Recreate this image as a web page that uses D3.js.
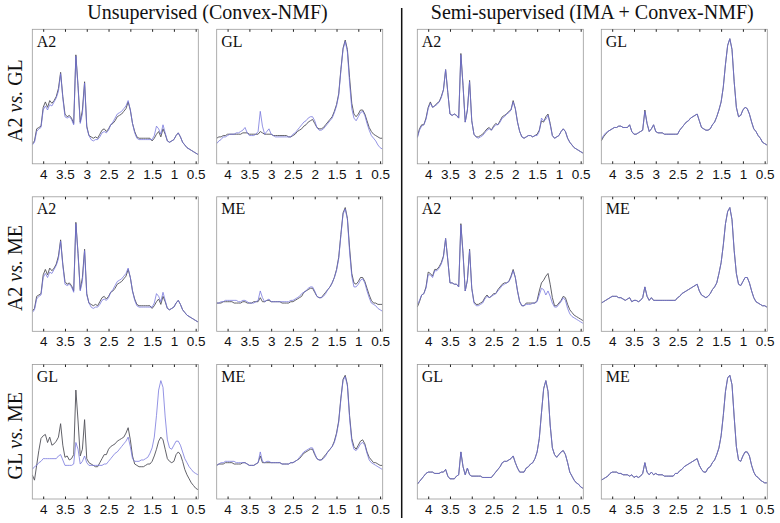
<!DOCTYPE html>
<html><head><meta charset="utf-8">
<script src="https://cdn.jsdelivr.net/npm/d3@7"></script>
<style>body{margin:0;background:#fff}svg{display:block}</style>
</head><body>
<script>
// chemical shift grid (ppm)
const ppm = [4.25,4.20,4.15,4.10,4.05,4.00,3.95,3.90,3.85,3.80,
 3.75,3.70,3.65,3.60,3.55,3.50,3.45,3.40,3.35,3.30,
 3.25,3.20,3.15,3.10,3.05,3.00,2.95,2.90,2.85,2.80,
 2.75,2.70,2.65,2.60,2.55,2.50,2.45,2.40,2.35,2.30,
 2.25,2.20,2.15,2.10,2.05,2.00,1.95,1.90,1.85,1.80,
 1.75,1.70,1.65,1.60,1.55,1.50,1.45,1.40,1.35,1.30,
 1.25,1.20,1.15,1.10,1.05,1.00,0.95,0.90,0.85,0.80,
 0.75,0.70,0.65,0.60,0.55,0.50,0.45];
const tickValues = [4,3.5,3,2.5,2,1.5,1,0.5];
const columnTitles = ["Unsupervised (Convex-NMF)", "Semi-supervised (IMA + Convex-NMF)"];
const rowLabels = [["A2","GL"],["A2","ME"],["GL","ME"]];
const panelLabels = [["A2","GL","A2","GL"],["A2","ME","A2","ME"],["GL","ME","GL","ME"]];

// Unsupervised A2 (rows 1-2, col 1)
const u11d = [15,17,26,27,28,42,46,42,47,45, 47,50,56,68,50,37,35,36,34,30, 81,58,31,40,61,28,21,20,19,20,
 19,22,25,26,24,26,29,30,32,35, 36,37,39,41,46,40,30,24,20,19, 19,19,19,19,19,17,19,22,24,20,
 26,22,17,16,17,18,21,23,20,16, 14,12,11,10,9,8,7];
const u11b = [14,16,24,26,27,40,43,40,44,43, 46,49,54,67,49,35,34,35,33,29, 80,57,30,37,60,27,21,18,17,18,
 18,20,23,24,23,25,29,31,34,37, 38,39,41,43,47,40,30,23,19,18, 18,18,18,18,18,18,21,28,26,22,
 29,23,17,16,17,18,21,23,20,16, 14,12,11,10,9,8,7];
// Unsupervised GL (row 1, col 2)
const u12d = [19,20,20,21,21,22,22,22,22,22, 22,22,23,23,23,22,22,22,22,22, 24,23,22,22,22,22,21,21,21,21,
 21,21,21,20,20,21,22,24,25,26, 28,29,31,32,33,30,27,26,26,27, 29,31,33,35,39,44,52,70,86,92,
 85,64,45,37,35,37,40,40,37,32, 27,24,22,21,20,19,19];
const u12b = [15,17,18,20,20,21,22,22,22,23, 23,24,25,27,23,21,21,21,22,24, 39,28,22,24,26,22,21,20,20,20,
 20,20,20,20,20,22,23,25,27,29, 31,32,34,35,35,32,27,25,25,26, 28,30,32,34,38,43,51,69,85,91,
 83,60,41,34,32,35,38,39,36,30, 25,21,19,17,14,12,11];
// Unsupervised ME (row 2, col 2)
const u22d = [21,21,21,22,22,22,22,22,21,21, 21,21,22,22,21,21,21,22,22,22, 25,22,22,23,23,22,22,22,22,22,
 21,21,21,21,22,22,23,24,25,26, 29,30,31,32,32,29,26,25,25,27, 29,31,33,36,40,46,55,72,88,92,
 84,62,43,36,35,37,40,40,37,32, 27,23,21,21,20,20,20];
const u22b = [21,21,22,22,23,23,23,23,23,23, 22,22,23,23,22,21,21,21,22,23, 30,25,22,23,24,22,22,22,22,22,
 22,22,22,22,23,23,24,25,26,28, 29,30,32,33,33,30,26,25,25,26, 28,31,33,36,40,45,54,71,87,91,
 83,59,41,33,33,35,38,39,36,30, 25,21,20,19,17,16,15];
// Unsupervised GL vs ME (row 3)
const u31d = [18,14,25,36,45,47,48,42,46,40, 41,43,46,56,40,31,32,29,30,33, 81,58,32,37,59,30,27,26,25,24,
 24,27,30,33,33,37,39,40,41,43, 44,45,46,49,53,44,32,26,25,24, 24,24,25,26,26,28,32,37,43,46,
 44,37,30,28,27,28,33,35,33,28, 22,18,15,12,10,8,7];
const u31b = [22,24,25,27,28,30,30,30,30,30, 30,30,32,33,29,25,25,25,25,26, 42,37,26,28,32,27,25,25,25,25,
 25,25,25,26,26,28,30,32,34,35, 37,39,41,43,46,39,30,28,28,28, 29,29,30,31,34,38,46,62,81,88,
 83,61,44,38,37,40,43,43,40,35, 30,27,24,22,20,19,18];
const u32d = [25,26,26,26,27,27,27,27,26,26, 26,26,27,27,26,25,25,25,26,27, 32,27,27,27,27,27,27,27,27,27,
 26,26,26,26,27,27,28,29,30,32, 34,35,36,37,37,33,30,29,29,31, 33,35,37,39,43,49,58,75,89,92,
 85,62,45,39,37,40,43,44,41,35, 31,29,27,27,26,25,25];
const u32b = [25,26,27,27,28,28,28,28,28,27, 27,27,27,27,26,25,25,25,26,27, 35,28,27,28,28,27,27,27,27,27,
 26,26,26,26,27,27,28,29,31,33, 35,36,37,38,38,34,30,29,29,30, 32,35,37,39,42,48,57,74,88,91,
 84,60,43,37,36,38,41,42,40,34, 29,27,26,25,24,23,22];
// Semi-supervised
const s13d = [20,26,29,29,34,42,46,42,43,45, 46,50,55,70,53,37,36,37,36,34, 82,58,31,40,62,32,22,20,20,21,
 22,24,26,27,25,28,30,29,32,35, 36,37,39,40,47,41,31,24,20,19, 20,21,21,20,21,22,25,32,31,35,
 37,30,21,19,20,21,24,26,24,19, 16,14,12,11,10,9,8];
const s13b = [19,25,28,29,33,41,45,42,43,44, 46,49,55,70,53,37,36,37,36,34, 81,58,31,40,61,32,22,20,19,20,
 21,23,25,26,25,27,29,29,31,34, 35,37,38,40,46,41,31,24,20,19, 20,21,21,20,21,21,24,34,32,33,
 36,29,21,19,20,21,24,26,24,19, 16,14,12,11,10,9,8];
const s14d = [17,20,22,24,25,26,27,27,28,28, 27,27,27,29,24,22,22,23,24,25, 40,30,24,26,29,24,23,23,23,22,
 22,22,22,22,22,22,25,27,29,31, 32,34,35,36,37,32,27,26,25,25, 26,29,31,35,40,46,57,74,88,93,
 85,61,42,35,36,40,42,41,37,31, 26,24,21,19,16,15,14];
const s14b = [18,21,23,24,25,26,27,27,28,28, 27,27,27,29,24,22,22,23,24,25, 39,30,24,26,29,24,23,23,23,22,
 22,22,22,22,22,22,25,27,29,31, 32,34,35,36,37,32,27,26,25,25, 26,29,31,35,40,46,57,74,88,93,
 85,61,42,35,36,40,42,41,37,31, 26,24,21,19,16,15,14];
const s23d = [18,22,27,28,33,44,43,41,46,46, 48,51,56,69,53,36,36,35,35,33, 80,58,30,38,61,32,22,20,20,21,
 22,25,27,25,26,28,28,31,33,35, 36,36,37,41,46,40,30,22,19,19, 21,21,21,21,21,23,30,36,38,41,
 43,35,25,19,19,21,23,26,25,20, 16,14,12,11,10,9,8];
const s23b = [20,23,27,28,32,42,42,40,45,45, 47,50,55,69,53,36,36,35,35,33, 79,57,30,38,60,32,21,19,19,20,
 21,24,26,25,26,27,28,30,32,34, 35,36,37,40,45,40,30,22,19,19, 20,20,20,21,21,22,27,32,31,27,
 30,26,21,18,18,20,22,25,23,17, 13,11,10,9,8,7,6];
const s24d = [21,22,23,24,25,26,26,26,25,25, 24,23,24,25,22,23,23,22,23,25, 33,26,23,25,23,23,23,23,23,23,
 23,23,23,23,23,25,26,28,29,30, 31,32,33,34,35,30,27,26,25,26, 28,31,33,36,43,51,64,80,89,92,
 83,60,43,35,34,37,40,40,36,30, 25,22,21,20,19,19,18];
const s24b = [21,22,23,24,25,26,26,26,25,25, 24,23,24,25,22,23,23,22,23,25, 33,26,23,25,23,23,23,23,23,23,
 23,23,23,23,23,25,26,28,29,30, 31,32,33,34,35,30,27,26,25,26, 28,31,33,36,43,51,64,80,89,92,
 83,60,43,35,34,37,40,40,36,30, 25,22,21,20,19,19,18];
const s33d = [11,13,15,17,19,20,20,20,19,19, 19,20,20,22,17,15,15,15,17,18, 35,24,18,23,18,17,17,17,17,17,
 16,16,16,16,16,18,20,22,24,27, 28,28,29,30,32,27,23,20,20,20, 23,24,26,27,30,35,45,64,82,88,
 80,55,38,33,31,33,35,36,33,27, 20,17,14,12,11,9,8];
const s33b = [11,13,15,17,19,20,20,20,19,19, 19,20,20,22,17,15,15,15,17,18, 35,24,18,23,18,17,17,17,17,17,
 16,16,16,16,16,18,20,22,24,27, 28,28,29,30,32,27,23,20,20,20, 23,24,26,27,30,35,45,64,82,88,
 80,55,38,33,31,33,35,36,33,27, 20,17,14,12,11,9,8];
const s34d = [14,15,16,17,19,20,20,20,19,19, 18,18,18,17,18,16,17,16,17,19, 27,20,18,20,18,19,18,18,18,17,
 17,17,17,17,19,19,21,22,24,25, 26,27,28,29,30,25,22,20,20,23, 24,27,29,33,38,47,62,80,90,92,
 85,61,39,29,28,32,35,35,32,25, 20,17,16,14,13,12,12];
const s34b = [14,15,16,17,19,20,20,20,19,19, 18,18,18,17,18,16,17,16,17,19, 27,20,18,20,18,19,18,18,18,17,
 17,17,17,17,19,19,21,22,24,25, 26,27,28,29,30,25,22,20,20,23, 24,27,29,33,38,47,62,80,90,92,
 85,61,39,29,28,32,35,35,32,25, 20,17,16,14,13,12,12];

const seriesGrid = [
  [[u11d,u11b],[u12d,u12b],[s13d,s13b],[s14d,s14b]],
  [[u11d,u11b],[u22d,u22b],[s23d,s23b],[s24d,s24b]],
  [[u31d,u31b],[u32d,u32b],[s33d,s33b],[s34d,s34b]]
];

const W = 780, H = 523;
const colX = [32.3, 216.7, 417.3, 601.3], panelW = 166;
const rowY = [29.3, 196.8, 364.5], panelH = 134.5;
const serif = "'Liberation Serif','Times New Roman',Times,serif";
const sans = "'Liberation Sans',Arial,Helvetica,sans-serif";
const darkColor = "#505058", blueColor = "#7272dc";

const svg = d3.select("body").append("svg").attr("width", W).attr("height", H);

// column titles
const titleX = [(colX[0] + colX[1] + panelW) / 2, (colX[2] + colX[3] + panelW) / 2];
columnTitles.forEach((t, i) => {
  svg.append("text").attr("x", titleX[i]).attr("y", 18.5).attr("text-anchor", "middle")
    .style("font-family", serif).style("font-size", "20px").attr("fill", "#111").text(t);
});
// divider
svg.append("line").attr("x1", 401.7).attr("x2", 401.7).attr("y1", 8).attr("y2", 518)
  .attr("stroke", "#111").attr("stroke-width", 1.5);

// row labels
rowLabels.forEach((r, i) => {
  const cy = rowY[i] + panelH / 2 + 4;
  const t = svg.append("text").attr("transform", `translate(22,${cy}) rotate(-90)`)
    .attr("text-anchor", "middle").style("font-family", serif).style("font-size", "20px").attr("fill", "#111");
  t.append("tspan").text(r[0] + " ");
  t.append("tspan").style("font-style", "italic").text("vs.");
  t.append("tspan").text(" " + r[1]);
});

const x = d3.scaleLinear().domain([4.25, 0.44]);
rowY.forEach((ry, ri) => {
  colX.forEach((cx, ci) => {
    const g = svg.append("g").attr("transform", `translate(${cx},${ry})`);
    const xs = x.copy().range([0, panelW]);
    const ys = d3.scaleLinear().domain([0, 100]).range([panelH, 0]);
    const clipId = `clip${ri}${ci}`;
    g.append("clipPath").attr("id", clipId).append("rect").attr("width", panelW).attr("height", panelH);
    const line = d3.line().x((d, i) => xs(ppm[i])).y(d => ys(d));
    const [dark, blue] = seriesGrid[ri][ci];
    const lg = g.append("g").attr("clip-path", `url(#${clipId})`);
    lg.append("path").datum(dark).attr("d", line).attr("fill", "none")
      .attr("stroke", darkColor).attr("stroke-width", 0.9);
    lg.append("path").datum(blue).attr("d", line).attr("fill", "none")
      .attr("stroke", blueColor).attr("stroke-width", 0.9).attr("stroke-opacity", 0.85);
    // frame
    g.append("rect").attr("width", panelW).attr("height", panelH).attr("fill", "none")
      .attr("stroke", "#9a9a9a").attr("stroke-width", 0.8);
    // axes
    const bottom = g.append("g").attr("transform", `translate(0,${panelH})`)
      .call(d3.axisBottom(xs).tickValues(tickValues).tickFormat(d3.format("")).tickSizeInner(-2.5).tickSizeOuter(0).tickPadding(5.5));
    bottom.select(".domain").remove();
    bottom.selectAll("line").attr("stroke", "#222");
    bottom.selectAll("text").style("font-family", sans).style("font-size", "13.5px").attr("fill", "#111");
    const top = g.append("g")
      .call(d3.axisTop(xs).tickValues(tickValues).tickFormat("").tickSizeInner(-2.5).tickSizeOuter(0));
    top.select(".domain").remove();
    top.selectAll("line").attr("stroke", "#222");
    // panel label
    g.append("text").attr("x", 4.5).attr("y", 17.5).style("font-family", serif).style("font-size", "16px")
      .attr("fill", "#111").text(panelLabels[ri][ci]);
  });
});
</script>
</body></html>
